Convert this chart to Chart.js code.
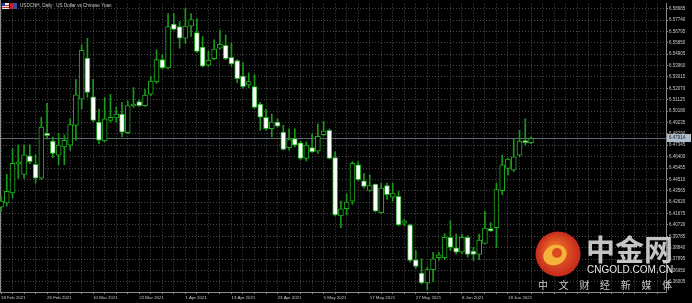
<!DOCTYPE html>
<html>
<head>
<meta charset="utf-8">
<script src="https://cdn.jsdelivr.net/npm/chart.js@4.4.1/dist/chart.umd.min.js"></script>
<style>
html, body { margin: 0; padding: 0; background: #000; }
#wrap { width: 692px; height: 303px; }
</style>
</head>
<body>
<div id="wrap"><canvas id="usdcnh_canvas"></canvas></div>
<script>
// USDCNH daily candles, 18 Feb 2021 -> end of June 2021
var opens = [
  6.4221, 6.4256, 6.4338, 6.4580, 6.4492, 6.4647, 6.4576, 6.4461, 6.4836, 6.4768,
  6.4653, 6.4721, 6.4735, 6.4899, 6.5117, 6.5459, 6.5137, 6.4926, 6.4770, 6.4940,
  6.4961, 6.4994, 6.4838, 6.5060, 6.5096, 6.5063, 6.5158, 6.5260, 6.5445, 6.5377,
  6.5740, 6.5719, 6.5623, 6.5723, 6.5669, 6.5549, 6.5399, 6.5453, 6.5541, 6.5563,
  6.5464, 6.5437, 6.5309, 6.5235, 6.5221, 6.5076, 6.4967, 6.4871, 6.4926, 6.4844,
  6.4715, 6.4789, 6.4754, 6.4625, 6.4715, 6.4686, 6.4822, 6.4858, 6.4631, 6.4147,
  6.4207, 6.4270, 6.4571, 6.4440, 6.4360, 6.4412, 6.4174, 6.4399, 6.4303, 6.4311,
  6.4087, 6.4074, 6.3784, 6.3674, 6.3592, 6.3702, 6.3801, 6.3801, 6.3969, 6.3883,
  6.3846, 6.3969, 6.3855, 6.3828, 6.3920, 6.4043, 6.4051, 6.4358, 6.4543, 6.4530,
  6.4653, 6.4770, 6.4756
];
var highs = [
  6.4303, 6.4492, 6.4707, 6.4737, 6.4737, 6.4737, 6.4655, 6.4967, 6.5082, 6.4803,
  6.4830, 6.4819, 6.4953, 6.5281, 6.5568, 6.5623, 6.5281, 6.5035, 6.5131, 6.5158,
  6.5049, 6.5090, 6.5104, 6.5213, 6.5112, 6.5199, 6.5309, 6.5527, 6.5486, 6.5828,
  6.5828, 6.5762, 6.5869, 6.5828, 6.5787, 6.5637, 6.5516, 6.5609, 6.5691, 6.5650,
  6.5582, 6.5445, 6.5418, 6.5336, 6.5322, 6.5090, 6.5035, 6.4994, 6.4953, 6.4899,
  6.4871, 6.4871, 6.4770, 6.4762, 6.4830, 6.4912, 6.4932, 6.4871, 6.4680, 6.4270,
  6.4328, 6.4598, 6.4598, 6.4502, 6.4489, 6.4412, 6.4420, 6.4420, 6.4420, 6.4352,
  6.4120, 6.4079, 6.3860, 6.3792, 6.3723, 6.3846, 6.3846, 6.4002, 6.4106, 6.3997,
  6.3997, 6.3983, 6.3887, 6.3997, 6.4188, 6.4092, 6.4420, 6.4653, 6.4625, 6.4789,
  6.4858, 6.4953, 6.4803
];
var lows = [
  6.4188, 6.4229, 6.4297, 6.4459, 6.4459, 6.4582, 6.4420, 6.4451, 6.4789, 6.4631,
  6.4571, 6.4573, 6.4694, 6.4776, 6.5035, 6.5131, 6.4926, 6.4748, 6.4762, 6.4926,
  6.4926, 6.4803, 6.4830, 6.5049, 6.5057, 6.5057, 6.5145, 6.5248, 6.5369, 6.5369,
  6.5691, 6.5541, 6.5582, 6.5637, 6.5505, 6.5385, 6.5391, 6.5445, 6.5533, 6.5445,
  6.5391, 6.5254, 6.5213, 6.5213, 6.5041, 6.4860, 6.4858, 6.4803, 6.4885, 6.4694,
  6.4694, 6.4721, 6.4612, 6.4604, 6.4674, 6.4666, 6.4811, 6.4620, 6.4147, 6.4051,
  6.4155, 6.4243, 6.4440, 6.4379, 6.4352, 6.4183, 6.4169, 6.4284, 6.4270, 6.4065,
  6.4065, 6.3764, 6.3710, 6.3582, 6.3533, 6.3601, 6.3778, 6.3784, 6.3860, 6.3833,
  6.3833, 6.3805, 6.3778, 6.3784, 6.3915, 6.4019, 6.3887, 6.4325, 6.4489, 6.4516,
  6.4639, 6.4735, 6.4748
];
var closes = [
  6.4270, 6.4352, 6.4584, 6.4582, 6.4655, 6.4598, 6.4461, 6.4885, 6.4814, 6.4666,
  6.4735, 6.4776, 6.4907, 6.5153, 6.5522, 6.5172, 6.4940, 6.4776, 6.4953, 6.4967,
  6.4994, 6.4844, 6.5063, 6.5063, 6.5063, 6.5150, 6.5268, 6.5445, 6.5377, 6.5719,
  6.5696, 6.5623, 6.5723, 6.5778, 6.5514, 6.5391, 6.5440, 6.5533, 6.5573, 6.5453,
  6.5410, 6.5287, 6.5221, 6.5262, 6.5049, 6.4967, 6.4871, 6.4926, 6.4893, 6.4699,
  6.4781, 6.4735, 6.4625, 6.4735, 6.4680, 6.4809, 6.4852, 6.4625, 6.4155, 6.4207,
  6.4262, 6.4584, 6.4448, 6.4393, 6.4399, 6.4188, 6.4379, 6.4325, 6.4338, 6.4074,
  6.4106, 6.3778, 6.3729, 6.3592, 6.3702, 6.3792, 6.3825, 6.3969, 6.3887, 6.3846,
  6.3969, 6.3828, 6.3828, 6.3948, 6.4046, 6.4024, 6.4366, 6.4571, 6.4620, 6.4639,
  6.4770, 6.4756, 6.4791
];

// one date label every 8 bars
var xTickLabels = ['18 Feb 2021', '26 Feb 2021', '10 Mar 2021', '22 Mar 2021', '1 Apr 2021', '13 Apr 2021',
  '23 Apr 2021', '5 May 2021', '17 May 2021', '27 May 2021', '8 Jun 2021', '18 Jun 2021'];
var xTickEvery = 8;
var yTicks = [6.58685, 6.57740, 6.56795, 6.55850, 6.54905, 6.53960, 6.53015, 6.52070, 6.51125, 6.50180,
  6.49235, 6.48290, 6.47345, 6.46400, 6.45455, 6.44510, 6.43565, 6.42620, 6.41675, 6.40730,
  6.39785, 6.38840, 6.37895, 6.36950, 6.36005];
var lastPrice = 6.47914;
var chartTitle = 'USDCNH, Daily:  US Dollar vs Chinese Yuan';
var wmBig = '中金网';
var wmSite = 'CNGOLD.COM.CN';
var wmSlogan = ['中', '文', '财', '经', '新', '媒', '体'];

var bodyData = [];
var wickData = [];
for (let i = 0; i < opens.length; i++) {
  bodyData.push({x: i, y: [opens[i], closes[i]]});
  wickData.push({x: i, y: [lows[i], highs[i]]});
}

var green = '#1fae1f';
var axisText = '#c8c8c8';
Chart.defaults.font.family = "'Liberation Sans', Arial, sans-serif";

var mtChrome = {
  id: 'mtChrome',
  beforeDraw(chart) {
    const ctx = chart.ctx;
    ctx.save();
    ctx.fillStyle = '#000';
    ctx.fillRect(0, 0, chart.width, chart.height);
    ctx.restore();
  },
  beforeDatasetsDraw(chart) {
    const ctx = chart.ctx;
    const area = chart.chartArea;
    const y = Math.round(chart.scales.y.getPixelForValue(lastPrice)) + 0.5;
    ctx.save();
    ctx.lineWidth = 1;
    ctx.strokeStyle = '#5d6875';
    ctx.beginPath();
    ctx.moveTo(area.left, y);
    ctx.lineTo(area.right, y);
    ctx.stroke();
    ctx.strokeStyle = '#8a8a8a';
    ctx.beginPath();
    ctx.moveTo(0.5, 0);
    ctx.lineTo(0.5, area.bottom);
    ctx.stroke();
    ctx.restore();
  },
  afterDraw(chart) {
    const ctx = chart.ctx;
    const area = chart.chartArea;
    const y = Math.round(chart.scales.y.getPixelForValue(lastPrice));
    ctx.save();
    // current price box
    ctx.fillStyle = '#aebccb';
    ctx.fillRect(area.right + 1, y - 4, 24, 8);
    ctx.fillStyle = '#1a1a1a';
    ctx.font = "4.5px 'Liberation Sans'";
    ctx.textBaseline = 'middle';
    ctx.textAlign = 'left';
    ctx.fillText(lastPrice.toFixed(5), area.right + 3, y);

    // symbol icon + title
    ctx.fillStyle = '#e8e8f0';
    ctx.fillRect(2, 3, 7, 6);
    ctx.fillStyle = '#c03030';
    ctx.fillRect(2, 5, 7, 1);
    ctx.fillRect(2, 7, 7, 1);
    ctx.fillStyle = '#2a3a8a';
    ctx.fillRect(2, 3, 3, 3);
    ctx.fillStyle = '#d02020';
    ctx.fillRect(10, 3, 7, 6);
    ctx.fillStyle = '#3050b0';
    ctx.fillRect(13, 3, 4, 6);
    ctx.fillStyle = axisText;
    ctx.font = "4.6px 'Liberation Sans'";
    ctx.fillText(chartTitle, 20, 6);

    // watermark
    const cx = 558, cy = 254;
    const grad = ctx.createRadialGradient(cx - 4, cy - 6, 2, cx, cy, 23);
    grad.addColorStop(0, '#f2762a');
    grad.addColorStop(1, '#c4261c');
    ctx.fillStyle = grad;
    ctx.beginPath();
    ctx.arc(cx, cy, 22.5, 0, Math.PI * 2);
    ctx.fill();
    ctx.fillStyle = '#f5b23a';
    ctx.beginPath();
    ctx.ellipse(cx - 3, cy + 1, 12, 10, -0.4, 0, Math.PI * 2);
    ctx.fill();
    ctx.fillStyle = '#dc4a22';
    ctx.beginPath();
    ctx.arc(cx - 1, cy - 1, 5, 0, Math.PI * 2);
    ctx.fill();

    ctx.fillStyle = '#c4c4c4';
    ctx.font = "bold 29px 'Noto Sans CJK SC'";
    ctx.fillText(wmBig, 586, 250);
    ctx.fillStyle = '#e6e6e6';
    ctx.font = "10px 'Liberation Sans'";
    ctx.fillText(wmSite, 587, 270);
    ctx.fillStyle = '#c8c8c8';
    ctx.font = "10px 'Noto Sans CJK SC'";
    for (let k = 0; k < wmSlogan.length; k++) {
      ctx.fillText(wmSlogan[k], 538 + k * 20.7, 285);
    }
    ctx.restore();
  }
};

var usdcnhCanvas = document.getElementById('usdcnh_canvas');
var usdcnhChart = new Chart(usdcnhCanvas, {
  type: 'bar',
  data: {
    datasets: [{
      label: 'body',
      data: bodyData,
      order: 1,
      grouped: false,
      barThickness: 5,
      minBarLength: 2,
      borderSkipped: false,
      borderWidth: 1,
      borderColor: green,
      backgroundColor: (c) => {
        const i = c.dataIndex;
        return closes[i] >= opens[i] ? '#000000' : '#ffffff';
      }
    }, {
      label: 'wick',
      data: wickData,
      order: 2,
      grouped: false,
      barThickness: 1,
      minBarLength: 1,
      borderWidth: 0,
      backgroundColor: '#1a9a1a'
    }]
  },
  options: {
    responsive: true,
    maintainAspectRatio: false,
    animation: false,
    layout: { padding: 0 },
    plugins: {
      legend: { display: false },
      tooltip: { enabled: false }
    },
    scales: {
      x: {
        type: 'linear',
        offset: false,
        bounds: 'data',
        min: -0.17,
        max: 115.43,
        afterFit: (scale) => { scale.height = 11; },
        afterBuildTicks: (scale) => {
          const t = [];
          for (let v = 0; v <= 114; v += 2) t.push({value: v});
          scale.ticks = t;
        },
        grid: {
          offset: false,
          color: 'rgba(150,150,150,0.5)',
          tickColor: '#8a8a8a',
          tickLength: 2,
          tickBorderDash: []
        },
        border: { display: true, color: '#8a8a8a', width: 1, dash: [1, 2] },
        ticks: {
          autoSkip: false,
          maxRotation: 0,
          minRotation: 0,
          align: 'start',
          padding: 1,
          color: axisText,
          font: { size: 4.4 },
          callback: (v) => (v % xTickEvery === 0 && v / xTickEvery < xTickLabels.length) ? xTickLabels[v / xTickEvery] : ''
        }
      },
      y: {
        position: 'right',
        bounds: 'data',
        min: 6.35161,
        max: 6.59095,
        afterFit: (scale) => { scale.width = 26; },
        afterBuildTicks: (scale) => {
          scale.ticks = yTicks.map(v => ({value: v}));
        },
        grid: {
          color: 'rgba(150,150,150,0.5)',
          tickColor: '#8a8a8a',
          tickLength: 2,
          tickBorderDash: []
        },
        border: { display: true, color: '#8a8a8a', width: 1, dash: [1, 2] },
        ticks: {
          padding: 1,
          color: axisText,
          font: { size: 4.5 },
          callback: (v) => Number(v).toFixed(5)
        }
      }
    }
  },
  plugins: [mtChrome]
});
</script>
</body>
</html>
